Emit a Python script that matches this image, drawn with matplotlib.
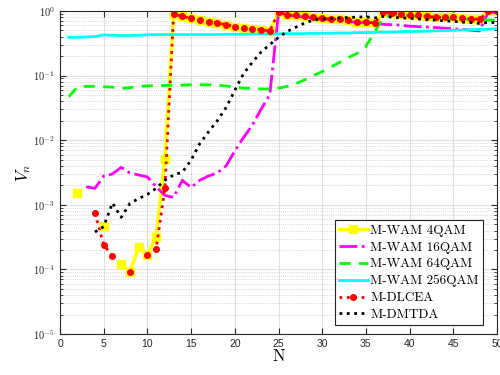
import numpy as np
import matplotlib
matplotlib.use("Agg")
import matplotlib.pyplot as plt
from matplotlib.ticker import LogLocator, NullFormatter, FuncFormatter

nan = np.nan
N = np.arange(1, 51)

# tail shared by M-WAM 4QAM and M-DLCEA (N = 13..50)
top_tail = [0.89, 0.82, 0.77, 0.73, 0.68, 0.65, 0.61, 0.57, 0.55, 0.53, 0.51, 0.49,
            0.95, 0.87, 0.85, 0.82, 0.79, 0.77, 0.75, 0.74, 0.71, 0.68, 0.67, 0.65,
            0.95, 0.92, 0.90, 0.87, 0.85, 0.82, 0.80, 0.79, 0.79, 0.77, 0.75, 0.74,
            0.98, 0.98]

wam4_head = [nan, 1.5e-3, nan, nan, 4.7e-4, nan, 1.2e-4, 9.3e-5, 2.2e-4, 1.7e-4, 3.2e-4, 5.2e-3]
dlcea_head = [nan, nan, nan, 7.4e-4, 2.4e-4, 1.6e-4, nan, 9.3e-5, nan, 1.7e-4, 2.1e-4, 1.8e-3]

wam16 = [nan, nan, 1.9e-3, 1.8e-3, 2.8e-3, 3.0e-3, 3.8e-3, 3.1e-3, 2.9e-3, 2.7e-3,
         1.9e-3, 1.4e-3, 1.3e-3, 2.4e-3, 1.85e-3, 2.4e-3, 2.8e-3, 3.1e-3, 4.0e-3, 6.8e-3,
         1.1e-2, 1.7e-2, 3.0e-2, 5.0e-2, 0.93, 0.85, 0.83, 0.80, 0.77, 0.75,
         0.73, 0.72, 0.69, 0.66, 0.65, 0.63, 0.62, 0.61, 0.60, 0.58,
         0.57, 0.56, 0.55, 0.54, 0.53, 0.52, 0.50, 0.49, 0.95, 0.95]

wam64 = [0.047, 0.067, 0.068, 0.068, 0.067, 0.066, 0.063, 0.065, 0.068, 0.069,
         0.070, 0.070, 0.071, 0.071, 0.072, 0.072, 0.072, 0.071, 0.069, 0.066,
         0.064, 0.063, 0.062, 0.062, 0.064, 0.068, 0.075, 0.086, 0.10, 0.115,
         0.135, 0.16, 0.19, 0.22, 0.28, 0.47, 0.80, 0.88, 0.86, 0.84,
         0.82, 0.80, 0.78, 0.77, 0.76, 0.75, 0.74, 0.73, 0.72, 0.72]

wam256 = [0.39, 0.39, 0.395, 0.40, 0.425, 0.42, 0.415, 0.415, 0.42, 0.425,
          0.43, 0.43, 0.43, 0.43, 0.43, 0.43, 0.43, 0.43, 0.435, 0.435,
          0.435, 0.44, 0.44, 0.44, 0.44, 0.445, 0.445, 0.445, 0.45, 0.45,
          0.45, 0.455, 0.455, 0.46, 0.46, 0.465, 0.47, 0.47, 0.475, 0.48,
          0.48, 0.485, 0.49, 0.495, 0.50, 0.505, 0.51, 0.515, 0.52, 0.53]

dmtda = [nan, nan, nan, 3.8e-4, 4.6e-4, 1.07e-3, 6.4e-4, 1.05e-3, 1.25e-3, 1.45e-3,
         1.8e-3, 2.4e-3, 2.9e-3, 3.2e-3, 4.9e-3, 8.9e-3, 1.35e-2, 2.0e-2, 3.2e-2, 5.9e-2,
         0.107, 0.16, 0.23, 0.30, 0.39, 0.48, 0.56, 0.65, 0.72, 0.75,
         0.76, 0.78, 0.79, 0.80, 0.81, 0.78, 0.82, 0.80, 0.78, 0.77,
         0.75, 0.73, 0.72, 0.70, 0.69, 0.67, 0.66, 0.64, 0.66, 0.66]

wam4 = wam4_head + top_tail
dlcea = dlcea_head + top_tail

legend_labels = ["M-WAM 4QAM", "M-WAM 16QAM", "M-WAM 64QAM", "M-WAM 256QAM",
                 "M-DLCEA", "M-DMTDA"]

plt.rcParams['mathtext.fontset'] = 'cm'

fig = plt.figure(figsize=(5, 3.75), dpi=100)
ax = fig.add_axes([0.12, 0.109, 0.874, 0.862])

ax.plot(N, wam4, color=(1, 1, 0), lw=2.5, marker='s', ms=6, label=legend_labels[0])
ax.plot(N, wam16, color=(1, 0, 1), lw=2, ls='-.', label=legend_labels[1])
ax.plot(N, wam64, color=(0, 1, 0), lw=2, ls=(0, (4, 3)), label=legend_labels[2])
ax.plot(N, wam256, color=(0, 1, 1), lw=2, label=legend_labels[3])
ax.plot(N, dlcea, color=(1, 0, 0), lw=2, ls=':', marker='o', ms=4, label=legend_labels[4])
ax.plot(N, dmtda, color='k', lw=2, ls=':', label=legend_labels[5])

ax.set_yscale('log')
ax.set_xlim(0, 50)
ax.set_ylim(1e-5, 1)
ax.set_xticks(np.arange(0, 51, 5))
ax.yaxis.set_major_locator(LogLocator(base=10, numticks=10))
ax.yaxis.set_major_formatter(FuncFormatter(
    lambda v, p: r'$\mathsf{10^{%d}}$' % int(round(np.log10(v)))))
ax.yaxis.set_minor_locator(LogLocator(base=10, subs=np.arange(2, 10), numticks=10))
ax.yaxis.set_minor_formatter(NullFormatter())

ax.grid(which='major', color='0.88', lw=0.8, ls='-')
ax.grid(which='minor', axis='y', color='0.75', lw=0.5, ls=':')
ax.set_axisbelow(True)

for sp in ax.spines.values():
    sp.set_color('0.15')
    sp.set_linewidth(0.8)
ax.tick_params(which='both', direction='in', top=True, right=True, color='0.15',
               labelsize=7.5, labelcolor='0.15')
ax.tick_params(which='major', length=4)
ax.tick_params(which='minor', length=2)
for lab in ax.get_xticklabels():
    lab.set_family('Liberation Sans')

ax.set_xlabel('N', fontsize=12, family='cmr10', labelpad=0)
ax.set_ylabel('$V_n$', fontsize=12, labelpad=0)

leg = ax.legend(loc='lower right', bbox_to_anchor=(0.968, 0.028),
                prop={'family': 'cmr10', 'size': 9.5}, fancybox=False,
                framealpha=1, edgecolor='0.15', handlelength=2.2,
                handletextpad=0.2, borderpad=0.3, labelspacing=0.35,
                borderaxespad=0)
leg.get_frame().set_linewidth(0.8)

fig.savefig('out.png', dpi=100)
